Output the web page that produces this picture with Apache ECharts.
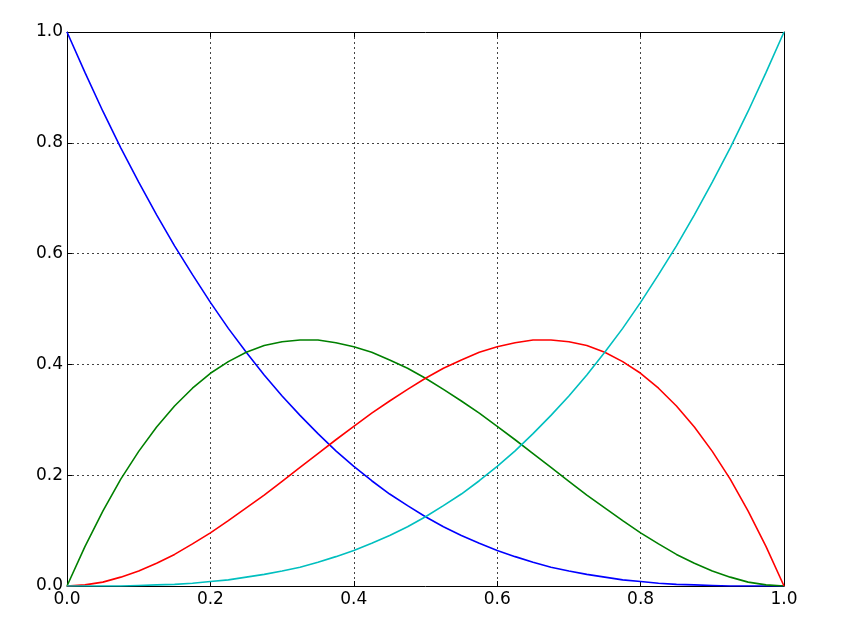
<!DOCTYPE html>
<html>
<head>
<meta charset="utf-8">
<script src="https://cdn.jsdelivr.net/npm/echarts@6/dist/echarts.min.js"></script>
<style>html,body{margin:0;padding:0;background:#fff}#c{width:846px;height:642px}</style>
</head>
<body>
<div id="c"></div>
<script>
const xValues = [0, 0.025, 0.05, 0.075, 0.1, 0.125, 0.15, 0.175, 0.2, 0.225, 0.25, 0.275, 0.3, 0.325, 0.35, 0.375, 0.4, 0.425, 0.45, 0.475, 0.5, 0.525, 0.55, 0.575, 0.6, 0.625, 0.65, 0.675, 0.7, 0.725, 0.75, 0.775, 0.8, 0.825, 0.85, 0.875, 0.9, 0.925, 0.95, 0.975, 1];
const blueValues = [1, 0.927, 0.857, 0.791, 0.729, 0.670, 0.614, 0.562, 0.512, 0.465, 0.422, 0.381, 0.343, 0.308, 0.275, 0.244, 0.216, 0.190, 0.166, 0.145, 0.125, 0.107, 0.091, 0.077, 0.064, 0.053, 0.043, 0.034, 0.027, 0.021, 0.016, 0.011, 0.008, 0.005, 0.003, 0.002, 0.001, 0, 0, 0, 0];
const greenValues = [0, 0.071, 0.135, 0.193, 0.243, 0.287, 0.325, 0.357, 0.384, 0.405, 0.422, 0.434, 0.441, 0.444, 0.444, 0.439, 0.432, 0.422, 0.408, 0.393, 0.375, 0.355, 0.334, 0.312, 0.288, 0.264, 0.239, 0.214, 0.189, 0.164, 0.141, 0.118, 0.096, 0.076, 0.057, 0.041, 0.027, 0.016, 0.007, 0.002, 0];
const redValues = [0, 0.002, 0.007, 0.016, 0.027, 0.041, 0.057, 0.076, 0.096, 0.118, 0.141, 0.164, 0.189, 0.214, 0.239, 0.264, 0.288, 0.312, 0.334, 0.355, 0.375, 0.393, 0.408, 0.422, 0.432, 0.439, 0.444, 0.444, 0.441, 0.434, 0.422, 0.405, 0.384, 0.357, 0.325, 0.287, 0.243, 0.193, 0.135, 0.071, 0];
const cyanValues = [0, 0, 0, 0, 0.001, 0.002, 0.003, 0.005, 0.008, 0.011, 0.016, 0.021, 0.027, 0.034, 0.043, 0.053, 0.064, 0.077, 0.091, 0.107, 0.125, 0.145, 0.166, 0.190, 0.216, 0.244, 0.275, 0.308, 0.343, 0.381, 0.422, 0.465, 0.512, 0.562, 0.614, 0.670, 0.729, 0.791, 0.857, 0.927, 1];
const xTicks = [0, 0.2, 0.4, 0.6, 0.8, 1.0];
const yTicks = [0, 0.2, 0.4, 0.6, 0.8, 1.0];

const chart = echarts.init(document.getElementById('c'), null, {renderer: 'canvas'});
const pair = v => xValues.map((x, i) => [x, v[i]]);
const font = 'DejaVu Sans';
const fmt = v => v.toFixed(1);
function axis(pos, show, ticks, extra) {
  return Object.assign({
    type: 'value', min: ticks[0], max: ticks[ticks.length - 1], interval: ticks[1] - ticks[0], position: pos,
    axisLine: {show: true, onZero: false, lineStyle: {color: '#000', width: 1}},
    axisTick: {show: true, inside: true, length: 5, lineStyle: {color: '#000', width: 1}},
    axisLabel: {show: show, color: '#000', fontFamily: font, fontSize: 17, formatter: fmt},
    splitLine: {show: false}
  }, extra || {});
}
const grid = {type: [2, 3], color: '#444', width: 1};
const line = (data, color) => ({
  type: 'line', data: pair(data), showSymbol: false, smooth: false,
  lineStyle: {color: color, width: 1.6}, itemStyle: {color: color}, z: 3
});
chart.setOption({
  animation: false,
  backgroundColor: '#fff',
  grid: {left: 67, right: 62, top: 32, bottom: 56, containLabel: false},
  xAxis: [
    axis('bottom', true, xTicks, {splitLine: {show: true, lineStyle: grid}, axisLabel: {show: true, color: '#000', fontFamily: font, fontSize: 17, margin: 5, formatter: fmt}}),
    axis('top', false, xTicks)
  ],
  yAxis: [
    axis('left', true, yTicks, {splitLine: {show: true, lineStyle: grid}, axisLabel: {show: true, color: '#000', fontFamily: font, fontSize: 17, margin: 4, formatter: fmt}}),
    axis('right', false, yTicks)
  ],
  series: [
    line(blueValues, '#0000ff'),
    line(greenValues, '#008000'),
    line(redValues, '#ff0000'),
    line(cyanValues, '#00bfbf')
  ]
});
</script>
</body>
</html>
